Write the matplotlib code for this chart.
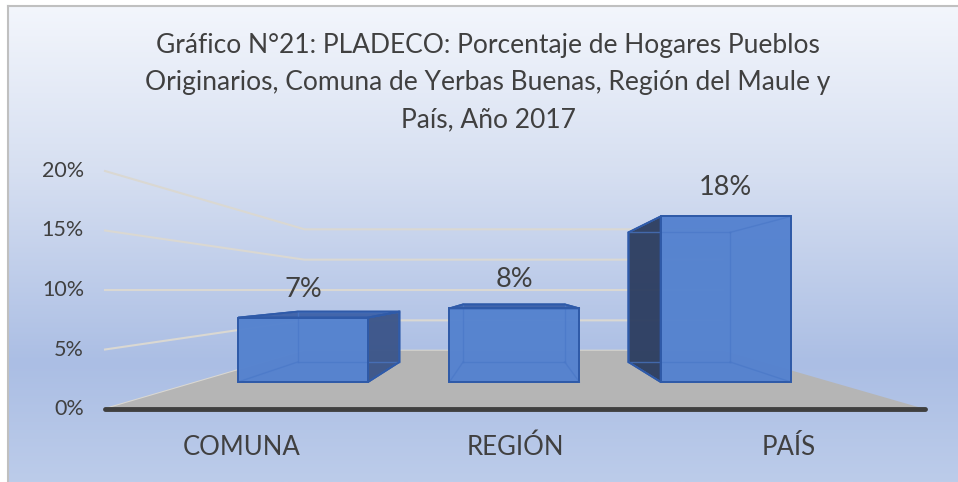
import numpy as np
import matplotlib
matplotlib.use('Agg')
import matplotlib.pyplot as plt
from matplotlib.patches import Polygon
from matplotlib.lines import Line2D

categories = ['COMUNA', 'REGIÓN', 'PAÍS']
values = [7, 8, 18]
value_labels = ['7%', '8%', '18%']
y_ticks = [0, 5, 10, 15, 20]
y_tick_labels = ['0%', '5%', '10%', '15%', '20%']
title = ('Gráfico N°21: PLADECO: Porcentaje de Hogares Pueblos\n'
         'Originarios, Comuna de Yerbas Buenas, Región del Maule y\n'
         'País, Año 2017')

plt.rcParams['font.family'] = ['Lato', 'DejaVu Sans']
TXT = '#404040'

W, H = 958, 482
fig = plt.figure(figsize=(W / 100, H / 100), dpi=100)

# background gradient inside the chart frame
bg = fig.add_axes([8 / W, 0, 1, 1 - 6 / H])
stops = [(0.0, (243, 246, 252)), (0.35, (214, 223, 241)),
         (0.75, (171, 190, 228)), (1.0, (188, 204, 234))]
t = np.linspace(0, 1, 300)
grad = np.stack([np.interp(t, [s[0] for s in stops], [s[1][c] / 255 for s in stops])
                 for c in range(3)], axis=-1)
bg.imshow(grad[:, None, :], aspect='auto', extent=[0, 1, 0, 1])
bg.axis('off')
fig.add_artist(Line2D([8 / W, 8 / W], [0, 1 - 6 / H], transform=fig.transFigure, color='#c0c0c0', lw=1.5))
fig.add_artist(Line2D([8 / W, 1], [1 - 6 / H, 1 - 6 / H], transform=fig.transFigure, color='#c0c0c0', lw=1.5))

# main axes: data coords of the front plane (x in category units, y in %)
px_x = 820 / 3
px_y = 238 / 20
ax = fig.add_axes([0, 0, 1, 1])
ax.set_xlim(-0.5 - 105 / px_x, -0.5 + (W - 105) / px_x)
ax.set_ylim(-(H - 409) / px_y, 409 / px_y)
ax.axis('off')
ax.patch.set_alpha(0)

# simple perspective: s = scale factor at depth
xc, yh = 0.99, 10.0
s_front, s_back = 1.0, 0.51
bar_sf, bar_sb = 0.773, 0.605
bar_w = 0.615
x_lo, x_hi = -0.5, len(categories) - 0.5


def proj(x, y, s):
    return (xc + (x - xc) * s, yh + (y - yh) * s)


# gridlines on side and back walls
for tk in y_ticks:
    pts = [proj(x_lo, tk, s_front), proj(x_lo, tk, s_back), proj(x_hi, tk, s_back)]
    ax.plot([p[0] for p in pts], [p[1] for p in pts], color='#dad8d2', lw=1.5, zorder=1)

# floor
floor = [proj(x_lo, 0, s_front), proj(x_hi, 0, s_front), proj(x_hi, 0, s_back), proj(x_lo, 0, s_back)]
ax.add_patch(Polygon(floor, closed=True, fc='#b5b5b5', ec='none', zorder=2))
ax.plot([x_lo, x_hi], [0, 0], color='#3f3f3f', lw=3.5, solid_capstyle='round', zorder=3)

front_c = '#5482cf'
top_c = '#3f63a9'
side_r = '#3c568a'
side_l = '#2e3f62'
edge_c = '#2f5aa8'
hid_c = '#4a78c8'

for i, v in enumerate(values):
    x0, x1 = i - bar_w / 2, i + bar_w / 2
    P = proj
    # hidden edges (seen through the translucent faces)
    hidden = [
        [P(x0, 0, bar_sb), P(x1, 0, bar_sb)],
        [P(x0, 0, bar_sb), P(x0, v, bar_sb)],
        [P(x1, 0, bar_sb), P(x1, v, bar_sb)],
        [P(x0, 0, bar_sf), P(x0, 0, bar_sb)],
        [P(x1, 0, bar_sf), P(x1, 0, bar_sb)],
        [P(x0, v, bar_sb), P(x1, v, bar_sb)],
        [P(x0, v, bar_sf), P(x0, v, bar_sb)],
        [P(x1, v, bar_sf), P(x1, v, bar_sb)],
    ]
    faces = []
    if x1 < xc:
        faces.append(([P(x1, 0, bar_sf), P(x1, 0, bar_sb), P(x1, v, bar_sb), P(x1, v, bar_sf)], side_r))
    if x0 > xc:
        faces.append(([P(x0, 0, bar_sf), P(x0, 0, bar_sb), P(x0, v, bar_sb), P(x0, v, bar_sf)], side_l))
    if v < yh:
        faces.append(([P(x0, v, bar_sf), P(x1, v, bar_sf), P(x1, v, bar_sb), P(x0, v, bar_sb)], top_c))
    faces.append(([P(x0, 0, bar_sf), P(x1, 0, bar_sf), P(x1, v, bar_sf), P(x0, v, bar_sf)], front_c))
    for poly, c in faces:
        ax.add_patch(Polygon(poly, closed=True, fc=c, ec=edge_c, lw=1.3, alpha=0.97, zorder=4))
    for seg in hidden:
        ax.plot([seg[0][0], seg[1][0]], [seg[0][1], seg[1][1]], color=hid_c, lw=1.0, alpha=0.7, zorder=5)
    for poly, c in faces:
        ax.add_patch(Polygon(poly, closed=True, fc='none', ec=edge_c, lw=1.3, zorder=6))

    ax.annotate(value_labels[i], proj(i, v, bar_sf), xytext=(0, 21), textcoords='offset pixels',
                ha='center', va='baseline', fontsize=19.5, color=TXT, zorder=7)
    ax.annotate(categories[i], (i, 0), xytext=(0, -46), textcoords='offset pixels',
                ha='center', va='baseline', fontsize=18.5, color=TXT)

for tk, lbl in zip(y_ticks, y_tick_labels):
    ax.annotate(lbl, (x_lo, tk), xytext=(-21, 0), textcoords='offset pixels',
                ha='right', va='center', fontsize=15.5, color=TXT)

fig.text(488 / W, 1 - 33 / H, title, ha='center', va='top', fontsize=19,
         color=TXT, linespacing=1.6)

fig.savefig('out.png', dpi=100)
